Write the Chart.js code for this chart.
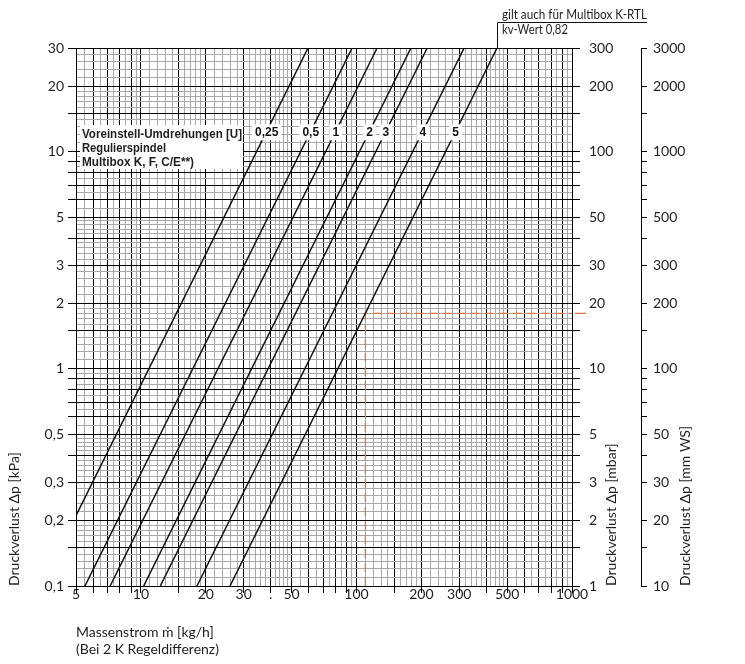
<!DOCTYPE html>
<html><head><meta charset="utf-8">
<script src="https://cdn.jsdelivr.net/npm/chart.js@4.4.0/dist/chart.umd.min.js"></script>
<style>html,body{margin:0;padding:0;background:#fff}canvas{display:block}</style>
</head><body>
<canvas id="c" width="745" height="664"></canvas>
<script>
// ---- data ----
const settingLabels = ['0,25', '0,5', '1', '2', '3', '4', '5'];
const flowStart = [5, 5.5, 7.2, 10.3, 12.3, 18.2, 25.9];      // kg/h
const dpStart   = [0.211, 0.1, 0.1, 0.1, 0.1, 0.1, 0.1];      // kPa
const flowEnd   = [59.6, 95.5, 124.7, 179, 213, 316, 449];    // kg/h
const dpEnd     = [30, 30, 30, 30, 30, 30, 30];               // kPa
const labelDp = 12.4;                                         // kPa level of setting labels
const exampleFlow = 110;                                      // kg/h (reading example)
const exampleDp = 1.8;                                        // kPa

const xTickValues = [5, 10, 20, 30, 40, 50, 100, 200, 300, 500, 1000];
const xTickLabels = ['5', '10', '20', '30', '.', '50', '100', '200', '300', '500', '1000'];
const yTickValues = [0.1, 0.2, 0.3, 0.5, 1, 2, 3, 5, 10, 20, 30];
const yTickLabels = ['0,1', '0,2', '0,3', '0,5', '1', '2', '3', '5', '10', '20', '30'];
const mbarTicks = [1, 2, 3, 5, 10, 20, 30, 50, 100, 200, 300];
const mmwsTicks = [10, 20, 30, 50, 100, 200, 300, 500, 1000, 2000, 3000];

const boxLines = ['Voreinstell-Umdrehungen [U]', 'Regulierspindel', 'Multibox K, F, C/E**)'];
const noteLines = ['gilt auch für Multibox K-RTL', 'kv-Wert 0,82'];
const xTitle = ['Massenstrom \u1E41 [kg/h]', '(Bei 2 K Regeldifferenz)'];
const yTitles = ['Druckverlust \u0394p [kPa]', 'Druckverlust \u0394p [mbar]', 'Druckverlust \u0394p [mm WS]'];

// ---- graph-paper grid ----
const MAJOR = [1, 1.5, 2, 3, 4, 5, 6, 7, 8, 9];
function isMajor(v) {
  const e = Math.floor(Math.log10(v) + 1e-9);
  const m = +(v / Math.pow(10, e)).toFixed(4);
  return MAJOR.includes(m);
}
function gridValues(min, max) {
  const segs = [[1, 2, 0.1], [2, 5, 0.2], [5, 10, 0.5]];
  const out = [];
  for (let e = -2; e <= 4; e++) {
    const d = Math.pow(10, e);
    for (const [a, b, s] of segs) {
      const n = Math.round((b - a) / s);
      for (let i = 0; i < n; i++) {
        const v = +((a + i * s) * d).toPrecision(6);
        if (v >= min * 0.9999 && v <= max * 1.0001) out.push(v);
      }
    }
  }
  return out;
}
function logAxis(pos, min, max, onArea, tickLen, fit) {
  const vals = gridValues(min, max).filter(v => onArea || isMajor(v));
  const maj = c => c.tick && isMajor(c.tick.value);
  return {
    type: 'logarithmic', position: pos, min: min, max: max,
    afterBuildTicks: s => { s.ticks = vals.map(v => ({ value: v })); },
    afterFit: fit,
    ticks: { display: false, autoSkip: false },
    grid: {
      drawOnChartArea: onArea, drawTicks: true, tickLength: tickLen,
      color: c => maj(c) ? '#000' : '#a8a8a8',
      lineWidth: 1,
      tickColor: c => maj(c) ? '#000' : 'rgba(0,0,0,0)',
      tickWidth: 1
    },
    border: { display: true, color: '#000', width: 1 }
  };
}

// ---- text helper ----
function txt(ctx, s, x, y, o) {
  ctx.save();
  ctx.font = o.font;
  ctx.fillStyle = o.color || '#1e1e1e';
  ctx.textBaseline = o.baseline || 'alphabetic';
  ctx.textAlign = 'left';
  ctx.translate(x, y);
  if (o.rotate) ctx.rotate(o.rotate);
  const w = ctx.measureText(s).width;
  const sx = o.width ? o.width / w : 1;
  const ww = w * sx;
  const ax = o.align === 'center' ? -ww / 2 : (o.align === 'right' ? -ww : 0);
  ctx.translate(ax, 0);
  ctx.scale(sx, 1);
  if (o.bg) {
    ctx.fillStyle = '#fff';
    ctx.fillRect(-3 / sx, -8, (w + 6 / sx), 16);
    ctx.fillStyle = o.color || '#1e1e1e';
  }
  ctx.fillText(s, 0, 0);
  ctx.restore();
  return ww;
}

const decor = {
  id: 'decor',
  afterDraw(chart) {
    const ctx = chart.ctx;
    const sx = chart.scales.x, sy = chart.scales.y, s2 = chart.scales.y2, s3 = chart.scales.y3;
    const A = chart.chartArea;
    const F = '14px Lato, "Open Sans", sans-serif';
    const FB = 'bold 13px "Liberation Sans", Arial, sans-serif';

    // tick labels
    xTickValues.forEach((v, i) => txt(ctx, xTickLabels[i], sx.getPixelForValue(v), 599, { font: F, align: 'center' }));
    yTickValues.forEach((v, i) => txt(ctx, yTickLabels[i], 64, sy.getPixelForValue(v), { font: F, align: 'right', baseline: 'middle' }));
    mbarTicks.forEach(v => txt(ctx, String(v), 589, s2.getPixelForValue(v), { font: F, baseline: 'middle' }));
    mmwsTicks.forEach(v => txt(ctx, String(v), 653, s3.getPixelForValue(v), { font: F, baseline: 'middle' }));

    // axis titles
    txt(ctx, xTitle[0], A.left, 637, { font: F });
    txt(ctx, xTitle[1], A.left, 654, { font: F });
    txt(ctx, yTitles[0], 19, A.bottom, { font: F, rotate: -Math.PI / 2 });
    txt(ctx, yTitles[1], 616, A.bottom, { font: F, rotate: -Math.PI / 2 });
    txt(ctx, yTitles[2], 690, A.bottom, { font: F, rotate: -Math.PI / 2 });

    // legend box
    ctx.fillStyle = '#fff';
    ctx.fillRect(80, 125, 163, 44);
    txt(ctx, boxLines[0], 82, 138, { font: FB, width: 160 });
    txt(ctx, boxLines[1], 82, 152, { font: FB, width: 84 });
    txt(ctx, boxLines[2], 82, 166, { font: FB, width: 112 });

    // setting labels on the curves
    const ly = sy.getPixelForValue(labelDp);
    settingLabels.forEach((lab, i) => {
      const x1 = sx.getPixelForValue(flowStart[i]), y1 = sy.getPixelForValue(dpStart[i]);
      const x2 = sx.getPixelForValue(flowEnd[i]), y2 = sy.getPixelForValue(dpEnd[i]);
      const lx = x1 + (x2 - x1) * (ly - y1) / (y2 - y1);
      txt(ctx, lab, lx, ly + 1, { font: 'bold 12px "Liberation Sans", Arial, sans-serif', align: 'center', baseline: 'middle', bg: true, color: '#111' });
    });

    // kv note with leader
    const last = settingLabels.length - 1;
    const kx = Math.round(sx.getPixelForValue(flowEnd[last])) + 0.5;
    ctx.save();
    ctx.strokeStyle = '#111'; ctx.lineWidth = 1;
    ctx.beginPath();
    ctx.moveTo(kx, A.top); ctx.lineTo(kx, 22.5); ctx.lineTo(647, 22.5);
    ctx.stroke();
    ctx.restore();
    txt(ctx, noteLines[0], 502, 19, { font: '13px Lato, "Open Sans", sans-serif', width: 145 });
    txt(ctx, noteLines[1], 502, 34, { font: '13px Lato, "Open Sans", sans-serif', width: 66 });

    // stub of the reading-example line beyond the plot
    const ey = sy.getPixelForValue(exampleDp);
    ctx.save();
    ctx.strokeStyle = '#e2763a'; ctx.lineWidth = 1.3;
    ctx.beginPath(); ctx.moveTo(A.right + 3, ey); ctx.lineTo(586, ey); ctx.stroke();
    ctx.restore();
  }
};

new Chart(document.getElementById('c'), {
  type: 'scatter',
  data: {
    datasets: settingLabels.map((lab, i) => ({
      label: lab,
      data: [{ x: flowStart[i], y: dpStart[i] }, { x: flowEnd[i], y: dpEnd[i] }],
      showLine: true, borderColor: '#111', borderWidth: 1.5, pointRadius: 0, fill: false
    })).concat([{
      label: 'Beispiel',
      data: [{ x: exampleFlow, y: 0.1 }, { x: exampleFlow, y: exampleDp }, { x: 1000, y: exampleDp }],
      showLine: true, borderColor: '#e2763a', borderWidth: 1.3, borderDash: [9, 5], pointRadius: 0, fill: false
    }])
  },
  options: {
    responsive: false, animation: false, devicePixelRatio: 1,
    layout: { padding: { top: 48, left: 0, right: 0, bottom: 0 } },
    plugins: { legend: { display: false }, tooltip: { enabled: false } },
    scales: {
      x: logAxis('bottom', 5, 1000, true, 7, s => { s.height = 78; }),
      y: logAxis('left', 0.1, 30, true, 8, s => { s.width = 76; }),
      y2: logAxis('right', 1, 300, false, 8, s => { s.width = 69; }),
      y3: logAxis('right', 10, 3000, false, 6, s => { s.width = 104; })
    }
  },
  plugins: [decor]
});
</script>
</body></html>
